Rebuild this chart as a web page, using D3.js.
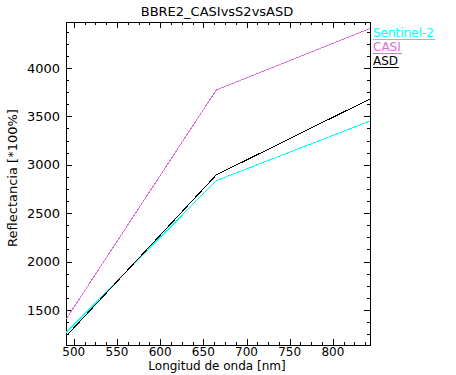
<!DOCTYPE html>
<html>
<head>
<meta charset="utf-8">
<script src="https://cdn.jsdelivr.net/npm/d3@7"></script>
<style>
  body { margin: 0; background: #fff; }
  svg { display: block; font-family: "DejaVu Sans", "Liberation Sans", sans-serif; }
  .axis path, .axis line { stroke: #000; shape-rendering: crispEdges; }
</style>
</head>
<body>
<svg class="plot" width="456" height="375"></svg>
<script>
// data
var wavelengths = [491, 665, 843];
var sentinel2 = [1265, 2836, 3452];
var casi = [1404, 3773, 4407];
var asd = [1228, 2895, 3680];

var seriesNames = ["Sentinel-2", "CASI", "ASD"];
var seriesColors = ["#00ffff", "#dc6edc", "#000000"];
var xTicks = [500, 550, 600, 650, 700, 750, 800];
var yTicks = [1500, 2000, 2500, 3000, 3500, 4000];

var svg = d3.select(".plot"),
    margin = {top: 22, right: 86, bottom: 30, left: 66},
    width = +svg.attr("width") - margin.left - margin.right,
    height = +svg.attr("height") - margin.top - margin.bottom;

var x = d3.scaleLinear().domain([491, 843]).range([0, width]),
    y = d3.scaleLinear().domain([1138, 4475]).range([height, 0]);

var g = svg.append("g")
    .attr("transform", "translate(" + margin.left + "," + margin.top + ")");

// minor ticks every 12.5 nm / 125 units
var xMinor = d3.range(500, 843, 12.5).filter(function(v) { return xTicks.indexOf(v) < 0; });
var yMinor = d3.range(1250, 4475, 125).filter(function(v) { return yTicks.indexOf(v) < 0; });

// frame
g.append("rect")
    .attr("width", width).attr("height", height)
    .attr("fill", "none").attr("stroke", "#000")
    .attr("shape-rendering", "crispEdges");

function ticks(axisFn, vals, len) {
  return axisFn.tickValues(vals).tickSize(len).tickSizeOuter(0).tickFormat("");
}

// bottom / top
g.append("g").attr("class", "axis").attr("transform", "translate(0," + height + ")")
    .call(ticks(d3.axisTop(x), xTicks, 6));
g.append("g").attr("class", "axis").attr("transform", "translate(0," + height + ")")
    .call(ticks(d3.axisTop(x), xMinor, 3));
g.append("g").attr("class", "axis")
    .call(ticks(d3.axisBottom(x), xTicks, 6));
g.append("g").attr("class", "axis")
    .call(ticks(d3.axisBottom(x), xMinor, 3));
// left / right
g.append("g").attr("class", "axis")
    .call(ticks(d3.axisRight(y), yTicks, 6));
g.append("g").attr("class", "axis")
    .call(ticks(d3.axisRight(y), yMinor, 3));
g.append("g").attr("class", "axis").attr("transform", "translate(" + width + ",0)")
    .call(ticks(d3.axisLeft(y), yTicks, 6));
g.append("g").attr("class", "axis").attr("transform", "translate(" + width + ",0)")
    .call(ticks(d3.axisLeft(y), yMinor, 3));
g.selectAll(".axis path.domain").remove();

// tick labels
g.selectAll(".xlab").data(xTicks).enter().append("text")
    .attr("x", function(d) { return x(d); })
    .attr("y", height + 11)
    .attr("text-anchor", "middle")
    .style("font-size", "12px")
    .text(function(d) { return d; });

g.selectAll(".ylab").data(yTicks).enter().append("text")
    .attr("x", -6)
    .attr("y", function(d) { return y(d); })
    .attr("dy", "0.36em")
    .attr("text-anchor", "end")
    .style("font-size", "13px")
    .text(function(d) { return d; });

// titles
svg.append("text").attr("x", 217).attr("y", 16)
    .attr("text-anchor", "middle").style("font-size", "13px")
    .text("BBRE2_CASIvsS2vsASD");
svg.append("text").attr("x", 217).attr("y", 370)
    .attr("text-anchor", "middle").style("font-size", "12px")
    .text("Longitud de onda [nm]");
svg.append("text")
    .attr("transform", "translate(17,178) rotate(-90)")
    .attr("text-anchor", "middle").style("font-size", "13px")
    .text("Reflectancia [*100%]");

// lines
var line = d3.line()
    .x(function(d, i) { return x(wavelengths[i]); })
    .y(function(d) { return y(d); });

[sentinel2, casi, asd].forEach(function(s, i) {
  g.append("path")
      .datum(s)
      .attr("fill", "none")
      .attr("stroke", seriesColors[i])
      .attr("stroke-width", 1)
      .attr("shape-rendering", "crispEdges")
      .attr("d", line);
});

// legend
var leg = svg.selectAll(".leg").data(seriesNames).enter().append("g")
    .attr("transform", function(d, i) { return "translate(373," + (37 + i * 14) + ")"; });
leg.append("text")
    .style("font-size", "12px")
    .attr("fill", function(d, i) { return seriesColors[i]; })
    .text(function(d) { return d; })
    .each(function() {
      var w = this.getComputedTextLength();
      d3.select(this.parentNode).append("line")
          .attr("x1", 0).attr("x2", w + 1)
          .attr("y1", 2.5).attr("y2", 2.5)
          .attr("stroke", d3.select(this).attr("fill"))
          .attr("shape-rendering", "crispEdges");
    });
</script>
</body>
</html>
